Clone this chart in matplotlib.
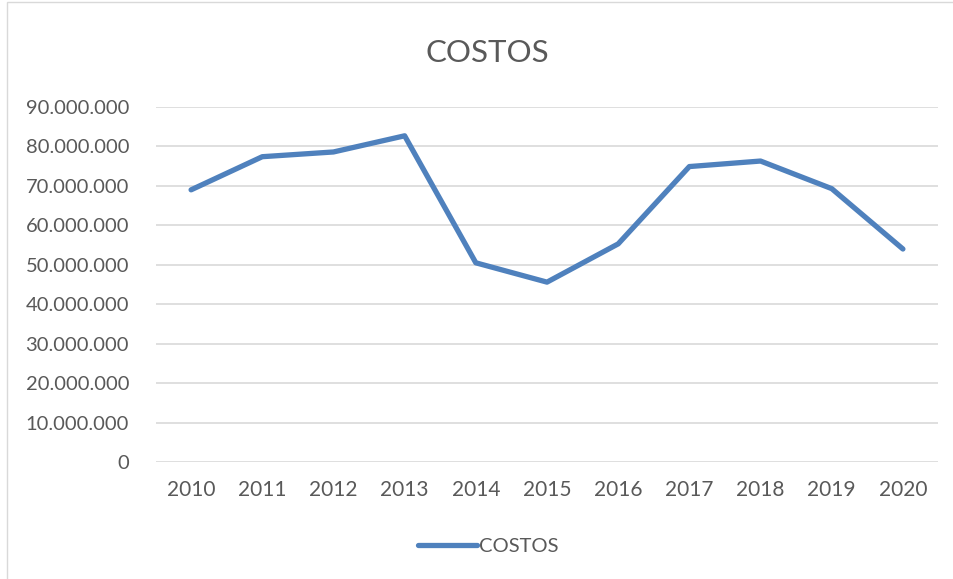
import numpy as np
import matplotlib
matplotlib.use("Agg")
import matplotlib.pyplot as plt
from matplotlib.ticker import FuncFormatter
from matplotlib.patches import Rectangle

years = ["2010", "2011", "2012", "2013", "2014", "2015",
         "2016", "2017", "2018", "2019", "2020"]
costos = [69.0e6, 77.4e6, 78.6e6, 82.7e6, 50.5e6, 45.6e6,
          55.3e6, 74.9e6, 76.3e6, 69.3e6, 54.0e6]

text_col = "#595959"
plt.rcParams['font.family'] = ['Lato', 'DejaVu Sans']

fig = plt.figure(figsize=(9.54, 5.79), dpi=100)
ax = fig.add_axes([155.5 / 954, 1 - 462 / 579, (938.5 - 155.5) / 954, 355 / 579])

x = np.arange(len(years))
line, = ax.plot(x, costos, color="#4F81BD", linewidth=3.8,
                solid_capstyle='round', solid_joinstyle='round', label="COSTOS")

ax.set_xlim(-0.5, len(years) - 0.5)
ax.set_ylim(0, 90e6)
ax.set_yticks(np.arange(0, 90e6 + 1, 10e6))
ax.yaxis.set_major_formatter(FuncFormatter(
    lambda v, p: "0" if v == 0 else f"{int(v):,}".replace(",", ".")))
ax.set_xticks(x)
ax.set_xticklabels(years)
ax.grid(axis='y', color="#D9D9D9", linewidth=1.2)
ax.set_axisbelow(True)
for s in ax.spines.values():
    s.set_visible(False)
ax.tick_params(axis='both', length=0, colors=text_col)
ax.tick_params(axis='y', labelsize=14.5, pad=19)
ax.tick_params(axis='x', labelsize=15, pad=13)

fig.text(0.5 + 10 / 954, 1 - 53 / 579, "COSTOS", ha='center', va='center',
         fontsize=22.5, color=text_col)

fig.legend(handles=[line], loc='center', bbox_to_anchor=(0.512, 1 - 546 / 579),
           frameon=False, fontsize=14.5, labelcolor=text_col,
           handlelength=2.9, handletextpad=0.1)

fig.patches.append(Rectangle((7 / 954, -0.01), 1.02, 1.0 - 2 / 579 + 0.01,
                             transform=fig.transFigure, fill=False,
                             edgecolor="#D9D9D9", linewidth=1))

fig.savefig("out.png", dpi=100)
